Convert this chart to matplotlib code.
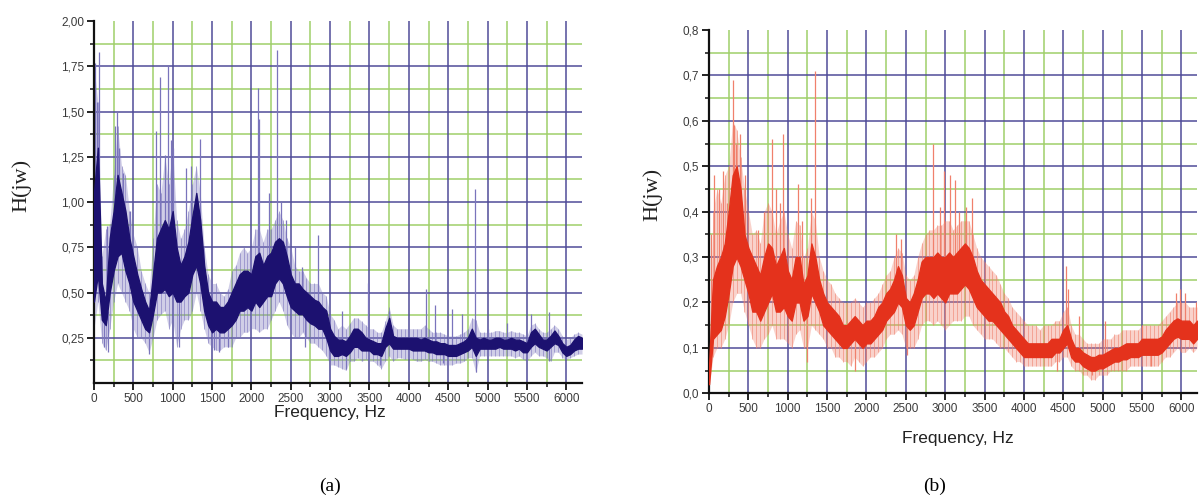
import numpy as np
import matplotlib
matplotlib.use("Agg")
import matplotlib.pyplot as plt

# frequency grid of the sampled envelopes (Hz)
freq = np.arange(0, 6201, 50)

# (a) dense core of the trace and its outer hairline envelope, H(jw)
core_lo_a = [0.45, 0.60, 0.35, 0.32, 0.50, 0.62, 0.70, 0.72, 0.62, 0.55,
             0.45, 0.40, 0.35, 0.30, 0.28, 0.38, 0.50, 0.50, 0.52, 0.48,
             0.50, 0.45, 0.45, 0.48, 0.50, 0.60, 0.65, 0.55, 0.40, 0.32,
             0.28, 0.30, 0.28, 0.28, 0.30, 0.32, 0.35, 0.40, 0.40, 0.42,
             0.40, 0.45, 0.42, 0.45, 0.48, 0.48, 0.55, 0.58, 0.55, 0.48,
             0.42, 0.40, 0.38, 0.38, 0.35, 0.33, 0.32, 0.30, 0.30, 0.25,
             0.18, 0.15, 0.15, 0.16, 0.15, 0.17, 0.20, 0.20, 0.18, 0.18,
             0.18, 0.16, 0.16, 0.15, 0.20, 0.22, 0.19, 0.19, 0.19, 0.19,
             0.19, 0.18, 0.18, 0.18, 0.18, 0.17, 0.17, 0.16, 0.16, 0.16,
             0.15, 0.15, 0.15, 0.16, 0.17, 0.18, 0.20, 0.15, 0.19, 0.19,
             0.19, 0.19, 0.19, 0.20, 0.19, 0.19, 0.19, 0.18, 0.19, 0.17,
             0.17, 0.20, 0.22, 0.20, 0.19, 0.18, 0.20, 0.22, 0.21, 0.17,
             0.15, 0.16, 0.18, 0.19, 0.19]
core_hi_a = [1.05, 1.30, 0.55, 0.45, 0.80, 0.95, 1.15, 1.05, 0.95, 0.80,
             0.70, 0.60, 0.52, 0.45, 0.40, 0.60, 0.80, 0.85, 0.90, 0.85,
             0.95, 0.75, 0.65, 0.70, 0.78, 0.92, 1.05, 0.90, 0.65, 0.50,
             0.45, 0.45, 0.42, 0.42, 0.45, 0.50, 0.55, 0.60, 0.62, 0.62,
             0.60, 0.70, 0.72, 0.65, 0.70, 0.72, 0.78, 0.80, 0.78, 0.70,
             0.60, 0.55, 0.55, 0.52, 0.50, 0.48, 0.46, 0.45, 0.42, 0.40,
             0.30, 0.26, 0.24, 0.24, 0.23, 0.26, 0.30, 0.30, 0.28, 0.25,
             0.24, 0.23, 0.22, 0.22, 0.30, 0.36, 0.26, 0.25, 0.25, 0.25,
             0.25, 0.25, 0.25, 0.24, 0.25, 0.24, 0.23, 0.23, 0.22, 0.22,
             0.21, 0.21, 0.21, 0.22, 0.23, 0.25, 0.30, 0.25, 0.24, 0.25,
             0.24, 0.24, 0.25, 0.25, 0.24, 0.24, 0.25, 0.24, 0.24, 0.23,
             0.22, 0.28, 0.30, 0.27, 0.24, 0.24, 0.26, 0.29, 0.26, 0.22,
             0.20, 0.21, 0.24, 0.26, 0.25]
out_lo_a = [0.30, 0.45, 0.22, 0.18, 0.30, 0.45, 0.55, 0.50, 0.45, 0.40,
            0.30, 0.25, 0.25, 0.22, 0.17, 0.25, 0.35, 0.38, 0.40, 0.30,
            0.35, 0.20, 0.30, 0.35, 0.35, 0.40, 0.50, 0.40, 0.30, 0.22,
            0.20, 0.18, 0.18, 0.20, 0.20, 0.20, 0.25, 0.25, 0.28, 0.28,
            0.30, 0.30, 0.28, 0.30, 0.30, 0.35, 0.40, 0.45, 0.40, 0.32,
            0.28, 0.25, 0.25, 0.28, 0.25, 0.22, 0.22, 0.20, 0.18, 0.15,
            0.10, 0.10, 0.09, 0.08, 0.07, 0.12, 0.12, 0.14, 0.12, 0.13,
            0.12, 0.12, 0.10, 0.08, 0.12, 0.15, 0.12, 0.14, 0.14, 0.13,
            0.14, 0.13, 0.12, 0.12, 0.13, 0.12, 0.12, 0.11, 0.10, 0.10,
            0.10, 0.10, 0.11, 0.11, 0.12, 0.14, 0.14, 0.06, 0.15, 0.15,
            0.15, 0.15, 0.15, 0.15, 0.15, 0.15, 0.15, 0.14, 0.15, 0.13,
            0.12, 0.15, 0.17, 0.15, 0.15, 0.14, 0.12, 0.17, 0.17, 0.14,
            0.13, 0.14, 0.15, 0.16, 0.16]
out_hi_a = [1.75, 1.55, 0.70, 0.85, 0.88, 1.15, 1.42, 1.20, 1.15, 0.95,
            0.82, 0.75, 0.62, 0.55, 0.50, 0.80, 1.10, 1.05, 1.25, 1.10,
            1.30, 0.90, 0.80, 0.85, 0.95, 1.10, 1.20, 1.05, 0.75, 0.60,
            0.55, 0.55, 0.50, 0.48, 0.52, 0.62, 0.65, 0.72, 0.75, 0.72,
            0.75, 0.85, 0.85, 0.78, 0.85, 0.85, 0.90, 0.95, 0.90, 0.80,
            0.75, 0.65, 0.62, 0.62, 0.58, 0.55, 0.55, 0.55, 0.50, 0.48,
            0.38, 0.35, 0.30, 0.32, 0.30, 0.33, 0.36, 0.36, 0.34, 0.32,
            0.30, 0.30, 0.28, 0.28, 0.34, 0.42, 0.32, 0.30, 0.30, 0.30,
            0.30, 0.30, 0.30, 0.30, 0.32, 0.30, 0.28, 0.28, 0.28, 0.27,
            0.26, 0.26, 0.26, 0.27, 0.28, 0.30, 0.36, 0.35, 0.28, 0.28,
            0.28, 0.28, 0.29, 0.29, 0.28, 0.28, 0.29, 0.28, 0.28, 0.27,
            0.26, 0.32, 0.33, 0.30, 0.28, 0.28, 0.30, 0.32, 0.30, 0.26,
            0.24, 0.25, 0.27, 0.28, 0.27]

# (a) isolated spikes: frequency, bottom, top
spike_f_a = [10, 40, 65, 160, 270, 290, 320, 370, 460, 790, 840, 900, 945,
             985, 1010, 1170, 1230, 1345, 2090, 2100, 2225, 2325, 2380, 2440,
             2560, 2640, 2845, 3150, 3480, 3750, 4220, 4335, 4550, 4675, 4845,
             5000, 5250, 5550, 5780,
             130, 180, 700, 1080, 1530, 1590, 1700, 2680, 2980, 3200, 3630,
             4430, 4855, 5785]
spike_lo_a = [0.60, 0.70, 0.70, 0.35, 0.70, 0.80, 0.80, 0.75, 0.60, 0.55,
              0.55, 0.60, 0.55, 0.55, 0.55, 0.50, 0.60, 0.65, 0.50, 0.50,
              0.50, 0.60, 0.60, 0.55, 0.45, 0.40, 0.35, 0.18, 0.20, 0.25,
              0.20, 0.18, 0.17, 0.17, 0.22, 0.20, 0.20, 0.22, 0.20,
              0.20, 0.17, 0.16, 0.20, 0.18, 0.17, 0.20, 0.20, 0.13, 0.08,
              0.10, 0.11, 0.06, 0.12]
spike_hi_a = [1.77, 1.55, 1.83, 0.87, 1.42, 1.50, 1.30, 1.16, 0.95, 1.39,
              1.69, 1.26, 1.75, 1.34, 1.30, 1.19, 1.20, 1.35, 1.63, 1.46,
              1.05, 1.84, 1.00, 0.90, 0.75, 0.64, 0.82, 0.40, 0.55, 0.40,
              0.52, 0.43, 0.41, 0.38, 1.07, 0.30, 0.33, 0.38, 0.39,
              0.40, 0.40, 0.35, 0.50, 0.35, 0.35, 0.35, 0.40, 0.30, 0.20,
              0.20, 0.20, 0.20, 0.22]

# (b) dense core and outer envelope, H(jw)
core_lo_b = [0.02, 0.12, 0.13, 0.14, 0.17, 0.22, 0.28, 0.30, 0.28, 0.25,
             0.22, 0.18, 0.18, 0.16, 0.18, 0.20, 0.22, 0.18, 0.18, 0.19,
             0.17, 0.16, 0.20, 0.20, 0.16, 0.17, 0.22, 0.20, 0.18, 0.15,
             0.14, 0.13, 0.12, 0.11, 0.10, 0.10, 0.11, 0.12, 0.11, 0.10,
             0.11, 0.11, 0.12, 0.13, 0.14, 0.16, 0.17, 0.18, 0.20, 0.19,
             0.15, 0.14, 0.15, 0.18, 0.21, 0.22, 0.22, 0.21, 0.22, 0.21,
             0.20, 0.22, 0.22, 0.22, 0.23, 0.24, 0.23, 0.21, 0.19, 0.18,
             0.17, 0.16, 0.16, 0.15, 0.14, 0.13, 0.12, 0.11, 0.10, 0.09,
             0.08, 0.08, 0.08, 0.08, 0.08, 0.08, 0.08, 0.08, 0.09, 0.09,
             0.10, 0.11, 0.08, 0.07, 0.07, 0.06, 0.055, 0.05, 0.05, 0.055,
             0.055, 0.06, 0.065, 0.07, 0.07, 0.075, 0.075, 0.08, 0.08, 0.08,
             0.085, 0.085, 0.085, 0.085, 0.085, 0.09, 0.10, 0.11, 0.12, 0.125,
             0.12, 0.12, 0.12, 0.11, 0.12]
core_hi_b = [0.06, 0.25, 0.28, 0.30, 0.33, 0.40, 0.48, 0.50, 0.45, 0.35,
             0.32, 0.30, 0.28, 0.26, 0.30, 0.33, 0.32, 0.28, 0.30, 0.32,
             0.27, 0.25, 0.30, 0.30, 0.24, 0.26, 0.33, 0.30, 0.25, 0.22,
             0.20, 0.19, 0.18, 0.17, 0.15, 0.15, 0.16, 0.17, 0.16, 0.15,
             0.16, 0.16, 0.17, 0.19, 0.20, 0.22, 0.23, 0.25, 0.28, 0.26,
             0.21, 0.20, 0.22, 0.25, 0.29, 0.30, 0.30, 0.30, 0.31, 0.30,
             0.30, 0.31, 0.30, 0.31, 0.32, 0.33, 0.32, 0.30, 0.27, 0.25,
             0.24, 0.23, 0.22, 0.21, 0.20, 0.18, 0.17, 0.15, 0.14, 0.13,
             0.12, 0.11, 0.11, 0.11, 0.11, 0.11, 0.11, 0.12, 0.12, 0.12,
             0.14, 0.15, 0.12, 0.10, 0.10, 0.09, 0.085, 0.08, 0.08, 0.085,
             0.085, 0.09, 0.095, 0.10, 0.10, 0.105, 0.11, 0.11, 0.11, 0.11,
             0.12, 0.12, 0.12, 0.12, 0.12, 0.125, 0.14, 0.15, 0.16, 0.165,
             0.16, 0.16, 0.16, 0.15, 0.16]
out_lo_b = [0.01, 0.08, 0.10, 0.10, 0.12, 0.15, 0.20, 0.22, 0.22, 0.18,
            0.15, 0.12, 0.10, 0.10, 0.12, 0.13, 0.15, 0.12, 0.12, 0.12,
            0.11, 0.10, 0.13, 0.14, 0.10, 0.10, 0.15, 0.14, 0.13, 0.12,
            0.10, 0.10, 0.08, 0.08, 0.07, 0.07, 0.06, 0.08, 0.07, 0.06,
            0.07, 0.08, 0.08, 0.09, 0.10, 0.12, 0.13, 0.13, 0.14, 0.13,
            0.10, 0.10, 0.10, 0.12, 0.15, 0.16, 0.16, 0.15, 0.16, 0.15,
            0.14, 0.15, 0.16, 0.16, 0.16, 0.17, 0.17, 0.15, 0.14, 0.13,
            0.12, 0.12, 0.12, 0.11, 0.10, 0.10, 0.09, 0.08, 0.07, 0.07,
            0.06, 0.06, 0.06, 0.06, 0.06, 0.06, 0.06, 0.06, 0.07, 0.07,
            0.08, 0.08, 0.06, 0.05, 0.05, 0.04, 0.04, 0.03, 0.03, 0.04,
            0.04, 0.04, 0.05, 0.05, 0.05, 0.05, 0.05, 0.06, 0.06, 0.06,
            0.06, 0.06, 0.06, 0.06, 0.06, 0.07, 0.08, 0.08, 0.09, 0.10,
            0.09, 0.09, 0.10, 0.09, 0.10]
out_hi_b = [0.10, 0.40, 0.45, 0.42, 0.48, 0.50, 0.60, 0.58, 0.52, 0.45,
            0.40, 0.35, 0.36, 0.33, 0.40, 0.42, 0.40, 0.35, 0.38, 0.40,
            0.35, 0.32, 0.38, 0.37, 0.30, 0.32, 0.40, 0.38, 0.30, 0.27,
            0.25, 0.24, 0.22, 0.21, 0.20, 0.20, 0.20, 0.21, 0.20, 0.19,
            0.20, 0.20, 0.21, 0.22, 0.24, 0.26, 0.27, 0.30, 0.32, 0.31,
            0.26, 0.25, 0.26, 0.30, 0.33, 0.35, 0.36, 0.36, 0.37, 0.37,
            0.38, 0.38, 0.36, 0.37, 0.38, 0.38, 0.38, 0.35, 0.32, 0.30,
            0.29, 0.28, 0.27, 0.26, 0.24, 0.22, 0.21, 0.19, 0.18, 0.17,
            0.16, 0.15, 0.15, 0.15, 0.14, 0.15, 0.15, 0.15, 0.16, 0.16,
            0.18, 0.19, 0.15, 0.13, 0.13, 0.12, 0.11, 0.11, 0.11, 0.11,
            0.12, 0.12, 0.12, 0.13, 0.13, 0.14, 0.14, 0.14, 0.14, 0.14,
            0.15, 0.15, 0.15, 0.15, 0.15, 0.16, 0.17, 0.18, 0.19, 0.20,
            0.20, 0.20, 0.19, 0.19, 0.19]

# (b) isolated spikes: frequency, bottom, top
spike_f_b = [20, 60, 130, 175, 230, 300, 315, 345, 390, 460, 620, 700, 800,
             850, 900, 945, 1130, 1180, 1300, 1345, 2370, 2440, 2850, 2930,
             2990, 3060, 3120, 3180, 3270, 3340, 4530, 4560, 4700, 5030, 5500,
             5930, 5980, 6040, 6180,
             1250, 1860, 2510, 4420, 4860, 5620]
spike_lo_b = [0.08, 0.15, 0.15, 0.18, 0.25, 0.35, 0.35, 0.35, 0.30, 0.28,
              0.20, 0.20, 0.25, 0.20, 0.22, 0.22, 0.22, 0.22, 0.25, 0.25,
              0.20, 0.22, 0.25, 0.25, 0.25, 0.25, 0.25, 0.25, 0.26, 0.25,
              0.12, 0.12, 0.09, 0.07, 0.10, 0.14, 0.14, 0.14, 0.14,
              0.07, 0.05, 0.085, 0.05, 0.04, 0.06]
spike_hi_b = [0.35, 0.48, 0.45, 0.49, 0.42, 0.69, 0.59, 0.55, 0.57, 0.48,
              0.36, 0.40, 0.56, 0.45, 0.42, 0.57, 0.46, 0.38, 0.43, 0.71,
              0.35, 0.34, 0.55, 0.41, 0.49, 0.48, 0.47, 0.40, 0.41, 0.43,
              0.28, 0.23, 0.17, 0.16, 0.15, 0.22, 0.23, 0.22, 0.20,
              0.20, 0.14, 0.18, 0.09, 0.07, 0.10]

x_ticks = [0, 500, 1000, 1500, 2000, 2500, 3000, 3500, 4000, 4500, 5000, 5500, 6000]
x_labels = ["0", "500", "1000", "1500", "2000", "2500", "3000", "3500",
            "4000", "4500", "5000", "5500", "6000"]
y_ticks_a = [0.25, 0.50, 0.75, 1.00, 1.25, 1.50, 1.75, 2.00]
y_labels_a = ["0,25", "0,50", "0,75", "1,00", "1,25", "1,50", "1,75", "2,00"]
y_ticks_b = [0.0, 0.1, 0.2, 0.3, 0.4, 0.5, 0.6, 0.7, 0.8]
y_labels_b = ["0,0", "0,1", "0,2", "0,3", "0,4", "0,5", "0,6", "0,7", "0,8"]

GRID_BLUE = "#4f4b98"
GRID_GREEN = "#9fcf6a"
SANS = ["Liberation Sans", "DejaVu Sans"]
SERIF = ["Liberation Serif", "DejaVu Serif"]
X_MAX = 6200


def style_axes(ax, y_max, y_ticks, y_labels, y_step):
    ax.set_xlim(0, X_MAX)
    ax.set_ylim(0, y_max)
    for side in ("top", "right"):
        ax.spines[side].set_visible(False)
    for side in ("left", "bottom"):
        ax.spines[side].set_linewidth(1.6)
        ax.spines[side].set_color("#111111")

    # grid: dark lines at the major steps, light green halfway between
    vx_major = x_ticks[1:]
    vx_minor = [t + 250 for t in x_ticks[:-1]]
    hy_major = [t for t in y_ticks if 0 < t < y_max - 1e-9]
    hy_minor = [t + y_step / 2 for t in [0.0] + hy_major]
    ax.vlines(vx_minor, 0, y_max, color=GRID_GREEN, lw=1.1, zorder=0)
    ax.hlines(hy_minor, 0, X_MAX, color=GRID_GREEN, lw=1.1, zorder=0)
    ax.vlines(vx_major, 0, y_max, color=GRID_BLUE, lw=1.1, zorder=0.5)
    ax.hlines(hy_major, 0, X_MAX, color=GRID_BLUE, lw=1.1, zorder=0.5)

    ax.set_xticks(x_ticks)
    ax.set_xticklabels(x_labels, family=SANS, fontsize=8.5, color="#3a3a3a")
    ax.set_xticks(vx_minor, minor=True)
    ax.set_yticks(y_ticks)
    ax.set_yticklabels(y_labels, family=SANS, fontsize=8.5, color="#3a3a3a")
    ax.set_yticks(hy_minor, minor=True)
    ax.tick_params(which="major", direction="out", length=5, width=1.3,
                   color="#111111", pad=2)
    ax.tick_params(which="minor", direction="out", length=3, width=1.1,
                   color="#111111")


def draw_trace(ax, lo, hi, olo, ohi, sf, slo, shi, dark, light):
    ax.fill_between(freq, olo, ohi, color=light, alpha=0.35, lw=0, zorder=2)
    ax.vlines(freq, olo, ohi, color=light, lw=0.5, alpha=0.8, zorder=2)
    ax.vlines(sf, slo, shi, color=light, lw=0.9, zorder=2.5)
    ax.fill_between(freq, lo, hi, color=dark, lw=1.0, edgecolor=dark,
                    zorder=3)


fig = plt.figure(figsize=(12.03, 4.98), dpi=100)

ax_a = fig.add_axes([0.0781, 0.2309, 0.4057, 0.7269])
style_axes(ax_a, 2.0, y_ticks_a, y_labels_a, 0.25)
draw_trace(ax_a, core_lo_a, core_hi_a, out_lo_a, out_hi_a,
           spike_f_a, spike_lo_a, spike_hi_a, "#1c1170", "#7a74bc")

ax_b = fig.add_axes([0.5894, 0.2102, 0.4057, 0.7295])
style_axes(ax_b, 0.8, y_ticks_b, y_labels_b, 0.1)
draw_trace(ax_b, core_lo_b, core_hi_b, out_lo_b, out_hi_b,
           spike_f_b, spike_lo_b, spike_hi_b, "#e4321c", "#f0806c")

fig.text(330 / 1203, 1 - 412 / 498, "Frequency, Hz", family=SANS,
         fontsize=12.5, ha="center", va="center", color="#222222")
fig.text(958 / 1203, 1 - 438 / 498, "Frequency, Hz", family=SANS,
         fontsize=12.5, ha="center", va="center", color="#222222")
fig.text(22 / 1203, 1 - 185 / 498, "H(jw)", family=SERIF, fontsize=16,
         rotation=90, ha="center", va="center", color="#222222")
fig.text(653 / 1203, 1 - 194 / 498, "H(jw)", family=SERIF, fontsize=16,
         rotation=90, ha="center", va="center", color="#222222")
fig.text(330 / 1203, 1 - 486 / 498, "(a)", family=SERIF, fontsize=14,
         ha="center", va="center", color="black")
fig.text(935 / 1203, 1 - 486 / 498, "(b)", family=SERIF, fontsize=14,
         ha="center", va="center", color="black")

fig.savefig("out.png", dpi=100, facecolor="white")
